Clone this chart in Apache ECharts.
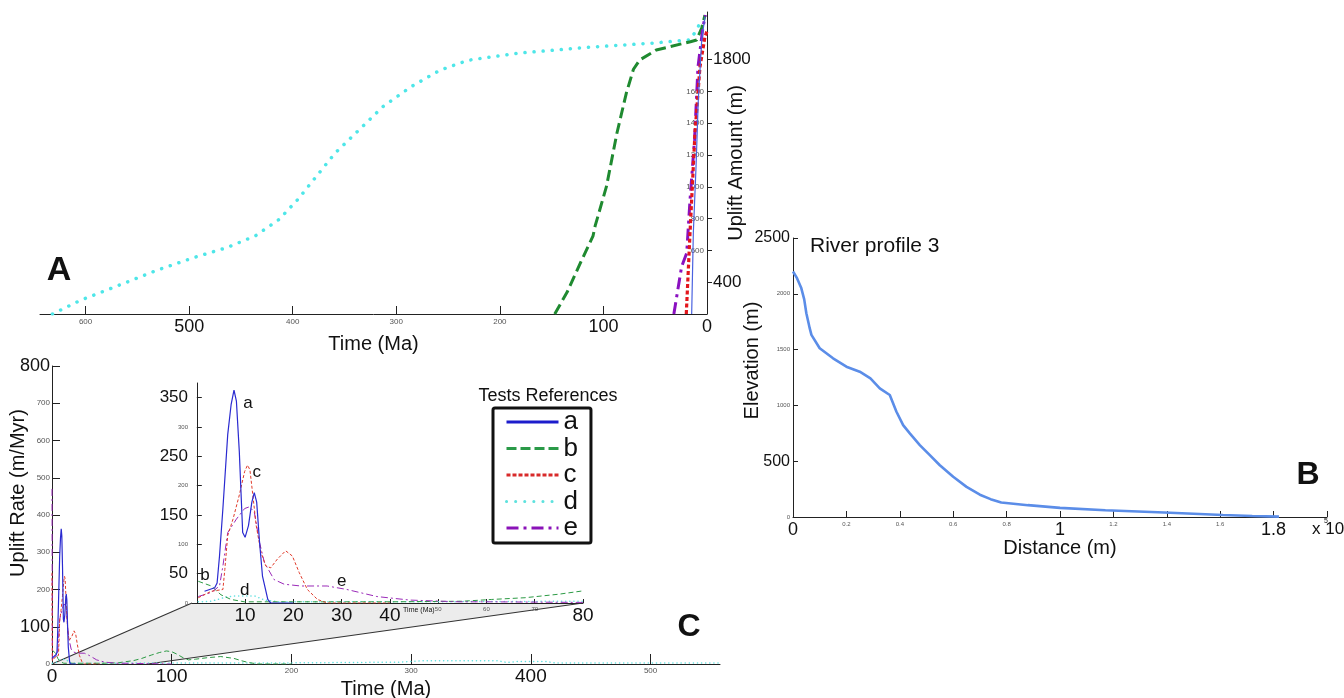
<!DOCTYPE html>
<html><head><meta charset="utf-8">
<script src="https://cdn.jsdelivr.net/npm/echarts@6/dist/echarts.min.js"></script>
<style>html,body{margin:0;padding:0;background:#fff}#c{width:1344px;height:698px}</style>
</head><body><div id="c"></div>
<script>
const FONT = "'Liberation Sans', Arial, sans-serif";
const seriesNames = ['a','b','c','d','e'];

// ---------- Panel A : uplift amount (m) vs time (Ma) ----------
const timeTicksA = [0,100,200,300,400,500,600];
const timeBigA = [0,100,500];
const upliftTicksA = [400,600,800,1000,1200,1400,1600,1800];
const upliftBigA = [400,1800];
const upliftSmallA = [600,800,1000,1200,1400,1600];
const upA = [[14.8,200],[13.2,710],[10.6,1125],[8.4,1546],[5.1,1924],[2,2069]];
const upB = [[147,200],[135,338],[122,525],[110,692],[108,754],[97,1004],[87,1337],[78,1587],[71,1740],[65,1798],[49,1861],[16,1913],[10,1924],[5,2000],[2,2080]];
const upC = [[20,200],[16.4,710],[11.6,1339],[6.8,1754],[2,1943],[0,1980]];
const upD = [[632,200],[605,286],[568,380],[532,473],[495,556],[463,619],[436,692],[413,796],[395,921],[377,1067],[359,1213],[336,1358],[313,1504],[286,1629],[258,1733],[231,1796],[181,1842],[113,1879],[53,1904],[16,1925],[10,1990],[4,2060]];
const upE = [[32,200],[24.5,498],[19.6,583],[16.4,917],[12,1300],[8.7,1754],[3.9,2005],[1.5,2080]];

// ---------- Panel B : river profile ----------
const distTicks = [0,0.2,0.4,0.6,0.8,1,1.2,1.4,1.6,1.8,2];
const distLabels = [0,0.2,0.4,0.6,0.8,1,1.2,1.4,1.6,1.8];
const distBig = [0,1,1.8];
const elevTicks = [0,500,1000,1500,2000,2500];
const elevBig = [500,2500];
const profile = [[0,2200],[0.015,2140],[0.031,2051],[0.042,1950],[0.05,1826],[0.058,1740],[0.0625,1692],[0.069,1632],[0.1,1512],[0.15,1422],[0.2,1347],[0.25,1302],[0.29,1242],[0.325,1153],[0.3625,1093],[0.3875,943],[0.4125,823],[0.4375,749],[0.475,644],[0.5125,554],[0.55,464],[0.6,360],[0.65,270],[0.7,200],[0.74,160],[0.78,130],[0.88,106],[1.0,82],[1.17,60],[1.39,40],[1.61,18],[1.72,9],[1.82,3]];

// ---------- Panel C : uplift rate (m/Myr) vs time (Ma) ----------
const rateTimeTicks = [0,100,200,300,400,500];
const rateTimeBig = [0,100,400];
const rateTicks = [0,100,200,300,400,500,600,700,800];
const rateBig = [100,800];
const insetTimeTicks = [10,20,30,40,50,60,70,80];
const insetTimeBig = [10,20,30,40,80];
const insetRateTicks = [0,50,100,150,200,250,300,350];
const insetRateBig = [50,150,250,350];
const rateA = [[0,15],[1.6,20],[3.7,26],[4.2,34],[4.7,80],[5.4,161],[6.4,287],[7.1,338],[7.7,363],[8.2,344],[8.8,258],[9.5,120],[10,112],[10.7,132],[11.4,172],[11.9,188],[12.4,172],[13,103],[13.6,46],[14.7,6],[15.3,0],[20,0]];
const rateB = [[0.3,37],[3,29],[5,14],[7.1,6],[9.9,2],[20,2],[40,2],[55,3],[61,6],[68,9],[75,15],[79.4,20],[83,24],[90,31],[95.6,35],[100,33],[104,27],[110,16],[114,11],[120,13],[130,17],[141,20],[152,15],[158,9],[164,4],[172,0],[200,0]];
const rateC = [[0,245],[0.3,9],[3,20],[5.4,23],[5.8,57],[6.4,115],[7.5,143],[8.8,184],[9.9,224],[10.5,235],[11,227],[11.6,184],[12.3,132],[13.3,86],[14.3,63],[15.3,60],[16.7,75],[18.4,89],[19.8,80],[21.2,52],[22.9,23],[25,6],[27,0],[40,0]];
const rateD = [[0.3,2],[3,3],[6,10],[8,12],[12,12],[14,5],[17,2],[40,2],[80,3],[150,3],[200,3],[250,4],[290,5],[310,9],[372,9],[380,4],[390,7],[412,7],[420,3],[558,3]];
const rateE = [[0,470],[0.3,11],[3,18],[4.7,29],[5.4,63],[6.4,120],[8.2,143],[9.9,161],[10.9,164],[11.9,155],[13,103],[14,69],[16,40],[18.1,32],[21.5,29],[27,29],[31.1,23],[37.3,11],[44.1,5],[54.4,2],[61,2],[79.4,1],[100,0]];
const annText = ['a','c','b','d','e'];
const annTime = [10.6,12.4,1.7,9.9,30];
const annRate = [341,223,48,22,37.5];

// ---------- styles ----------
const styleA = {
  a:{color:'#4a62e0',width:1.2,type:'solid'},
  b:{color:'#1f8a30',width:3,type:[11,5]},
  c:{color:'#e3161c',width:3.2,type:[4,2.5]},
  d:{color:'#4ee6e8',width:3.5,type:[0.1,9],cap:'round'},
  e:{color:'#8a10c0',width:3,type:[12,5,3,5]}
};
const styleC = {
  a:{color:'#2a2ad0',width:1.2,type:'solid'},
  b:{color:'#2c9a44',width:1,type:[5,3]},
  c:{color:'#e03a2a',width:1,type:[3,2]},
  d:{color:'#60e0e0',width:1.5,type:[0.1,4],cap:'round'},
  e:{color:'#9a2ab8',width:1,type:[7,3,2,3]}
};
const styleLegend = {
  a:{color:'#1c1ccc',width:3,type:'solid'},
  b:{color:'#2a9a48',width:3,type:[10,4]},
  c:{color:'#d82a2a',width:3,type:[4,2]},
  d:{color:'#5ee2de',width:3,type:[0.1,9],cap:'round'},
  e:{color:'#8a12b8',width:3,type:[12,5,3,5]}
};

function labels(values, big, bigSize, smallSize, extra) {
  return Object.assign({
    customValues: values,
    formatter: function (v) { return (big.indexOf(+v) >= 0 ? '{b|' : '{s|') + v + '}'; },
    rich: {
      b: {fontSize: bigSize, fontFamily: FONT, color: '#111'},
      s: {fontSize: smallSize, fontFamily: FONT, color: '#555'}
    }
  }, extra || {});
}
const AX = {lineStyle:{color:'#222',width:1}};
function tick(values, len, inside) {
  return {customValues: values, inside: inside, length: len, lineStyle:{color:'#222',width:1}};
}
function line(name, data, st, xi, yi) {
  return {type:'line', name:name, data:data, xAxisIndex:xi, yAxisIndex:yi, symbol:'none',
    showSymbol:false, silent:true, animation:false, clip:true,
    lineStyle:{color:st.color, width:st.width, type:st.type, cap:st.cap || 'butt'},
    itemStyle:{color:st.color}};
}
function axisName(text, gap, pad) {
  return {name:text, nameLocation:'middle', nameGap:gap, nameMoveOverlap:false,
    nameTextStyle:{fontSize:20, color:'#111', fontFamily:FONT, padding:pad || 0}};
}

const upData = {a:upA,b:upB,c:upC,d:upD,e:upE};
const rateData = {a:rateA,b:rateB,c:rateC,d:rateD,e:rateE};

const series = [];
// legend proxies (first series with each name drives the legend icon)
seriesNames.forEach(n => series.push(line(n, [], styleLegend[n], 3, 4)));
// Panel A
['d','b','e','c','a'].forEach(n => series.push(line(n, upData[n], styleA[n], 0, 0)));
// Panel B
series.push({type:'line', name:'profile', data:profile, xAxisIndex:1, yAxisIndex:2, symbol:'none',
  silent:true, animation:false, lineStyle:{color:'#5b8de8', width:2.6}});
// Panel C main
['d','b','e','c','a'].forEach(n => series.push(line(n, rateData[n], styleC[n], 2, 3)));
// Panel C inset
['d','b','e','c','a'].forEach(n => series.push(line(n, rateData[n].filter(p => p[0] >= 0.3), styleC[n], 3, 4)));

const option = {
  backgroundColor: '#fff',
  animation: false,
  textStyle: {fontFamily: FONT},
  grid: [
    {left:40, top:12, width:667, height:302, outerBoundsMode:'none', containLabel:false},
    {left:793, top:238, width:534, height:279, outerBoundsMode:'none', containLabel:false},
    {left:52, top:366, width:668, height:298, outerBoundsMode:'none', containLabel:false},
    {left:192, top:383, width:391, height:220, outerBoundsMode:'none', containLabel:false}
  ],
  xAxis: [
    Object.assign({gridIndex:0, type:'value', min:0, max:644, inverse:true, axisLine:AX, splitLine:{show:false},
     axisTick: tick(timeTicksA, 8, true),
     axisLabel: labels(timeTicksA, timeBigA, 18, 8, {margin:4})}, axisName('Time (Ma)', 20)),
    Object.assign({gridIndex:1, type:'value', min:0, max:2, axisLine:AX, splitLine:{show:false},
     axisTick: tick(distTicks, 6, true),
     axisLabel: labels(distLabels, distBig, 18, 6, {margin:4})}, axisName('Distance (m)', 21)),
    Object.assign({gridIndex:2, type:'value', min:0, max:558, axisLine:AX, splitLine:{show:false},
     axisTick: tick(rateTimeTicks, 10, true),
     axisLabel: labels(rateTimeTicks, rateTimeBig, 19, 8, {margin:3})}, axisName('Time (Ma)', 15)),
    {gridIndex:3, type:'value', min:-1, max:80, axisLine:AX, splitLine:{show:false},
     axisTick: tick(insetTimeTicks, 4, true),
     axisLabel: labels(insetTimeTicks, insetTimeBig, 19, 6, {margin:3})}
  ],
  yAxis: [
    Object.assign({gridIndex:0, type:'value', min:200, max:2100, position:'right', axisLine:AX, splitLine:{show:false},
     axisTick: tick(upliftTicksA, 5, false),
     axisLabel: labels(upliftBigA, upliftBigA, 17, 8, {margin:6}),
     nameRotate:90}, axisName('Uplift Amount (m)', 19)),
    {gridIndex:0, type:'value', min:200, max:2100, position:'right', axisLine:{show:false}, splitLine:{show:false},
     axisTick:{show:false},
     axisLabel: labels(upliftSmallA, upliftBigA, 17, 8, {margin:3, inside:true})},
    Object.assign({gridIndex:1, type:'value', min:0, max:2500, axisLine:AX, splitLine:{show:false},
     axisTick: tick(elevTicks, 5, true),
     axisLabel: labels(elevTicks, elevBig, 16, 6, {margin:3}),
     nameRotate:90}, axisName('Elevation (m)', 31, [0,0,0,34])),
    Object.assign({gridIndex:2, type:'value', min:0, max:800, axisLine:AX, splitLine:{show:false},
     axisTick: tick(rateTicks, 8, true),
     axisLabel: labels(rateTicks, rateBig, 18, 8, {margin:2}),
     nameRotate:90}, axisName('Uplift Rate (m/Myr)', 24, [0,0,0,44])),
    {gridIndex:3, type:'value', min:0, max:375, axisLine:AX, splitLine:{show:false},
     axisTick: tick(insetRateTicks, 5, true),
     axisLabel: labels(insetRateTicks, insetRateBig, 17, 6, {margin:4})}
  ],
  legend: {
    data: seriesNames, orient:'vertical', left:493, top:408,
    itemWidth:52, itemHeight:14, itemGap:0.5, padding:[1,13,2,12],
    borderColor:'#111', borderWidth:3, borderRadius:2, backgroundColor:'#fff',
    selectedMode:false,
    itemStyle:{color:'rgba(0,0,0,0)', borderWidth:0, opacity:0},
    lineStyle:{width:3},
    textStyle:{fontSize:26, color:'#111', fontFamily:FONT}
  },
  series: series
};

const chart = echarts.init(document.getElementById('c'), null, {renderer:'canvas', devicePixelRatio:1});
chart.setOption(option);

function txt(text, x, y, size, opts) {
  opts = opts || {};
  return {type:'text', silent:true, z:10, x:x, y:y,
    style:{text:text, fontSize:size, fontFamily:FONT, fontWeight:opts.weight || 'normal',
      fill:opts.color || '#111', align:opts.align || 'center', verticalAlign:'middle',
      textAlign:opts.align || 'center', textVerticalAlign:'middle'}};
}
const toMain = v => chart.convertToPixel({xAxisIndex:2, yAxisIndex:3}, v);
const toIn = v => chart.convertToPixel({xAxisIndex:3, yAxisIndex:4}, v);
const toB = v => chart.convertToPixel({xAxisIndex:1, yAxisIndex:2}, v);
const p0 = toMain([0,0]), p1 = toMain([80,0]), q0 = toIn([-1,0]), q1 = toIn([80,0]);
const els = [
  {type:'polygon', silent:true, z:-1, shape:{points:[p0,q0,q1,p1]}, style:{fill:'#ececec'}},
  {type:'polyline', silent:true, z:1, shape:{points:[p0,q0]}, style:{stroke:'#333', lineWidth:1.1, fill:null}},
  {type:'polyline', silent:true, z:1, shape:{points:[p1,q1]}, style:{stroke:'#333', lineWidth:1.1, fill:null}},
  txt('A', 59, 271, 34, {weight:'bold'}),
  txt('B', 1308, 475, 32, {weight:'bold'}),
  txt('C', 689, 627, 32, {weight:'bold'}),
  txt('River profile 3', 810, 246, 21, {align:'left'}),
  txt('Tests References', 548, 396, 18)
];
annText.forEach((t, i) => { const p = toIn([annTime[i], annRate[i]]); els.push(txt(t, p[0], p[1], 17)); });
const tl = toIn([46, 0]);
els.push(txt('Time (Ma)', tl[0], tl[1] + 7, 7));
const xe = toB([2, 0]);
els.push(txt('x 10', xe[0] - 15, xe[1] + 12, 17, {align:'left'}));
els.push(txt('5', xe[0] - 3, xe[1] + 4, 7, {align:'left'}));
chart.setOption({graphic:{elements:els}});
</script>
</body></html>
